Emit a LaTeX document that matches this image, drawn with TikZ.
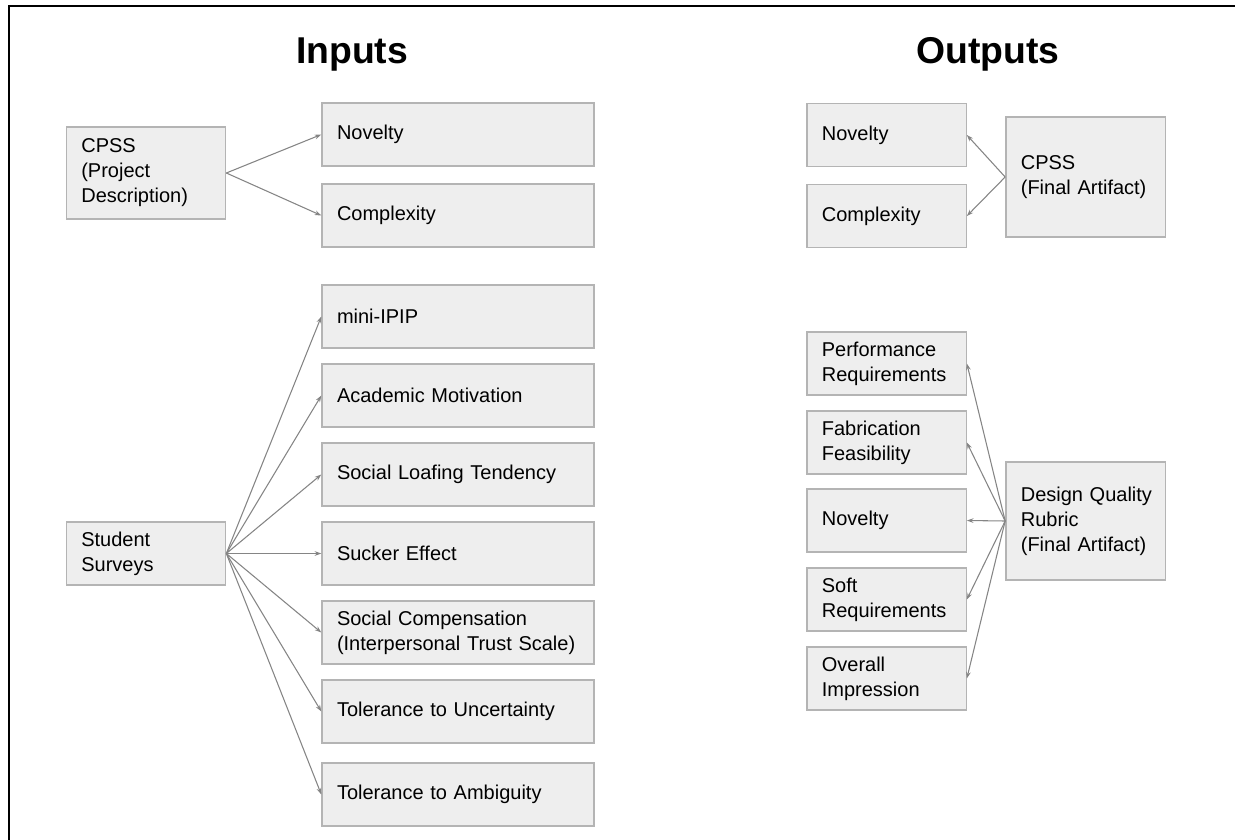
\documentclass[tikz,border=0pt]{standalone}
\usepackage{fontspec}
\setmainfont{Liberation Sans}
\usetikzlibrary{arrows.meta}
\definecolor{boxfill}{HTML}{EEEEEE}
\definecolor{boxline}{HTML}{B4B4B4}
\definecolor{linkgray}{HTML}{858585}
\tikzset{
  item/.style={draw=boxline, fill=boxfill, line width=1pt, align=left,
    inner xsep=11.25pt, inner ysep=0pt, minimum height=47.25pt,
    font=\fontsize{15}{18.75}\selectfont},
  wideitem/.style={item, text width=181.5pt},
  narrowitem/.style={item, text width=97pt},
  link/.style={draw=linkgray, line width=0.8pt,
    -{Stealth[length=5pt,width=3.5pt]}},
  heading/.style={font=\fontsize{28}{32}\selectfont\bfseries, anchor=base}
}
\begin{document}
\begin{tikzpicture}[x=0.75pt,y=-0.75pt]
\useasboundingbox (0,0) rectangle (1235,839);
% page frame: top and left rules only
\draw[line width=2pt] (1245,6) -- (9,6) -- (9,849);

% headings
\node[heading] (hin) at (352,63) {Inputs};
\node[heading] (hout) at (988,63) {Outputs};

% ---- inputs ----
\node[narrowitem, minimum height=69pt] (cpssin) at (146,173) {CPSS\\(Project\\Description)};
\node[narrowitem] (surveys) at (146,553.5) {Student\\Surveys};

\node[wideitem] (novin) at (458,134.5) {Novelty};
\node[wideitem] (cplxin) at (458,215.5) {Complexity};
\node[wideitem] (ipip) at (458,316.5) {mini-IPIP};
\node[wideitem] (acad) at (458,395.5) {Academic Motivation};
\node[wideitem] (loaf) at (458,474.5) {Social Loafing Tendency};
\node[wideitem] (sucker) at (458,553.5) {Sucker Effect};
\node[wideitem] (comp) at (458,632.5) {Social Compensation\\(Interpersonal Trust Scale)};
\node[wideitem] (tolunc) at (458,711.5) {Tolerance to Uncertainty};
\node[wideitem] (tolamb) at (458,794.5) {Tolerance to Ambiguity};

\foreach \t in {novin,cplxin} \draw[link] (cpssin.east) -- (\t.west);
\foreach \t in {ipip,acad,loaf,sucker,comp,tolunc,tolamb} \draw[link] (surveys.east) -- (\t.west);

% ---- outputs ----
\node[narrowitem, minimum height=90pt] (cpssout) at (1085.5,177) {CPSS\\(Final Artifact)};
\node[narrowitem, minimum height=88.5pt] (rubric) at (1085.5,521) {\mbox{Design Quality}\\Rubric\\(Final Artifact)};

\node[narrowitem] (novout) at (886.5,135) {Novelty};
\node[narrowitem] (cplxout) at (886.5,216) {Complexity};
\node[narrowitem] (perf) at (886.5,363.5) {Performance\\Requirements};
\node[narrowitem] (fab) at (886.5,442.5) {Fabrication\\Feasibility};
\node[narrowitem] (novr) at (886.5,520.5) {Novelty};
\node[narrowitem] (soft) at (886.5,599.5) {Soft\\Requirements};
\node[narrowitem] (overall) at (886.5,678.5) {Overall\\Impression};

\foreach \t in {novout,cplxout} \draw[link] (cpssout.west) -- (\t.east);
\foreach \t in {perf,fab,novr,soft,overall} \draw[link] (rubric.west) -- (\t.east);
\end{tikzpicture}
\end{document}
